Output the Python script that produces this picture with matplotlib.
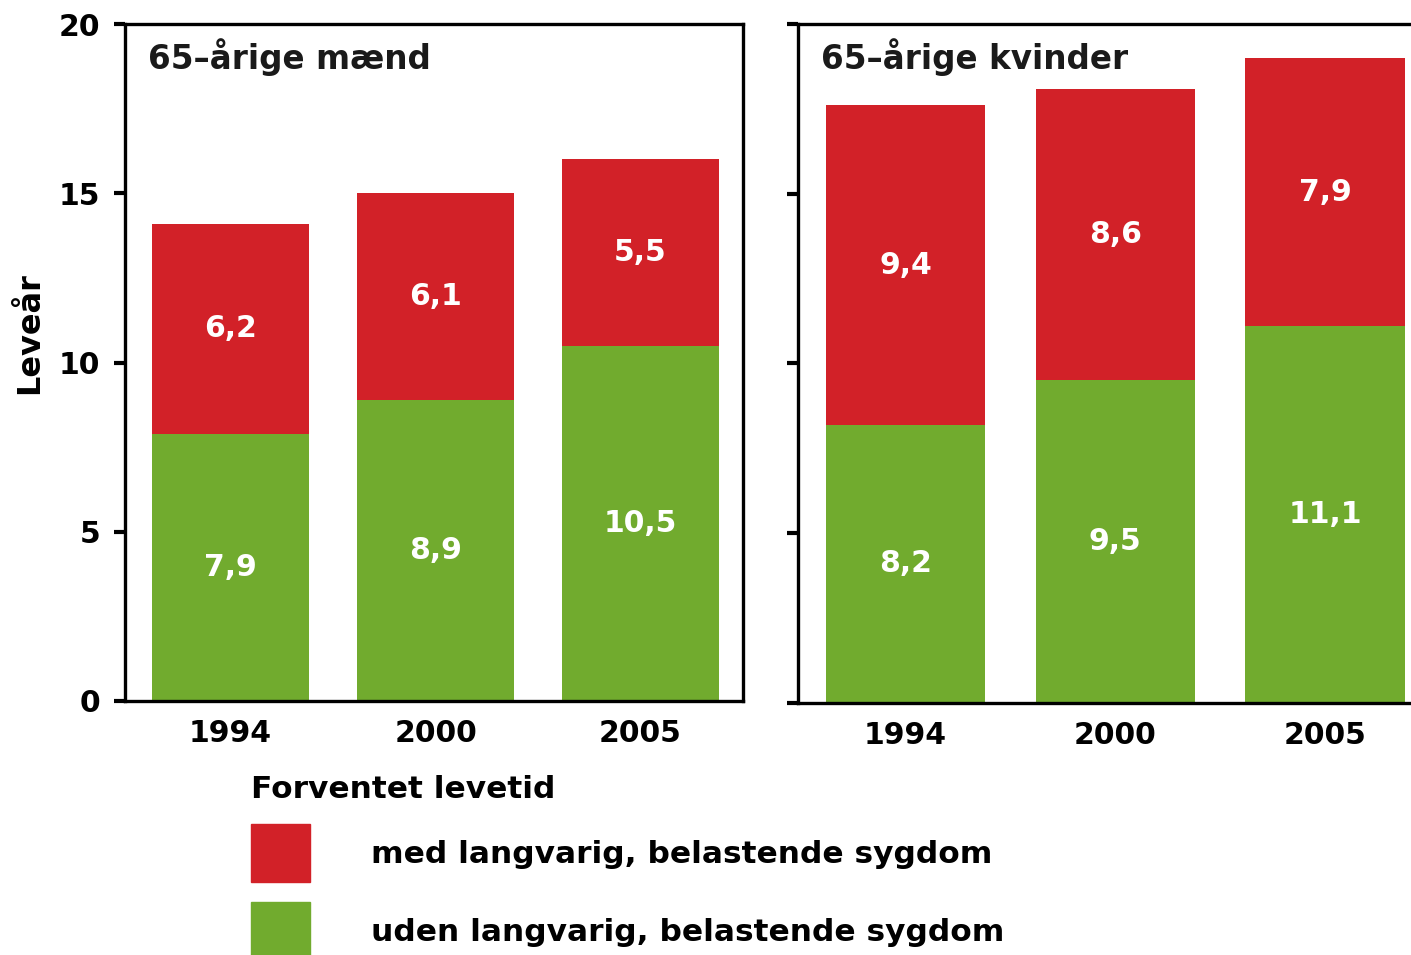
#!/usr/bin/env python3
"""
Forventet levetid for 65-årige mænd og kvinder, med/uden langvarig sygdom.
"""
import matplotlib
matplotlib.use('Agg')
import matplotlib.pyplot as plt
from matplotlib.patches import Patch

# ------------------------------
# Data
# ------------------------------
years = ['1994', '2000', '2005']
men_without = [7.9, 8.9, 10.5]
men_with = [6.2, 6.1, 5.5]
women_without = [8.2, 9.5, 11.1]
women_with = [9.4, 8.6, 7.9]
panel_titles = ['65–årige mænd', '65–årige kvinder']
legend_title = 'Forventet levetid'
legend_labels = ['med langvarig, belastende sygdom',
                 'uden langvarig, belastende sygdom']

RED = '#d22128'
GREEN = '#71ab2e'

plt.rcParams['font.family'] = ['DejaVu Sans']
plt.rcParams['font.weight'] = 'bold'

fig = plt.figure(figsize=(14.11, 9.55), dpi=100)
W, H = 1411, 955

def px_axes(x0, y0, x1, y1):
    # pixel box (top-left origin) -> figure fraction
    return fig.add_axes([x0 / W, 1 - y1 / H, (x1 - x0) / W, (y1 - y0) / H])

ax1 = px_axes(125, 24, 743, 701)
ax2 = px_axes(798, 24, 1430, 703)

def draw_panel(ax, without, with_, title, width, xlim, show_ylabels):
    x = range(len(years))
    ax.bar(x, without, width=width, color=GREEN)
    ax.bar(x, with_, width=width, bottom=without, color=RED)
    for i, (a, b) in enumerate(zip(without, with_)):
        ax.text(i, a / 2, f'{a:.1f}'.replace('.', ','), ha='center', va='center',
                color='white', fontsize=21.5, fontweight='bold')
        ax.text(i, a + b / 2, f'{b:.1f}'.replace('.', ','), ha='center', va='center',
                color='white', fontsize=21.5, fontweight='bold')
    ax.set_xlim(*xlim)
    ax.set_ylim(0, 20)
    ax.set_yticks([0, 5, 10, 15, 20])
    ax.set_xticks(list(x))
    ax.set_xticklabels(years)
    ax.tick_params(axis='x', length=0, pad=13, labelsize=21.5)
    ax.tick_params(axis='y', length=8, width=3, pad=10, labelsize=21.5,
                   labelleft=show_ylabels)
    for sp in ax.spines.values():
        sp.set_linewidth(2.4)
    ax.text(0.037, 0.951, title, transform=ax.transAxes, ha='left', va='center',
            fontsize=23.5, fontweight='bold', color='#1a1a1a')

draw_panel(ax1, men_without, men_with, panel_titles[0], 0.766, (-0.515, 2.5), True)
draw_panel(ax2, women_without, women_with, panel_titles[1], 0.76, (-0.512, 2.5), False)
ax2.spines['right'].set_visible(False)

fig.text(30 / W, 1 - 333 / H, 'Leveår', rotation=90, ha='center', va='center',
         fontsize=23, fontweight='bold')

# ------------------------------
# Legend
# ------------------------------
handles = [Patch(color=RED), Patch(color=GREEN)]
leg = fig.legend(handles, legend_labels, title=legend_title,
                 loc='upper left', bbox_to_anchor=(251 / W, 1 - 775 / H),
                 frameon=False, alignment='left', fontsize=22.5,
                 title_fontproperties={'size': 22.5, 'weight': 'bold'},
                 handlelength=1.9, handleheight=2.48, handletextpad=1.95,
                 labelspacing=0.64, borderpad=0, borderaxespad=0)

fig.savefig('out.png', dpi=100)
